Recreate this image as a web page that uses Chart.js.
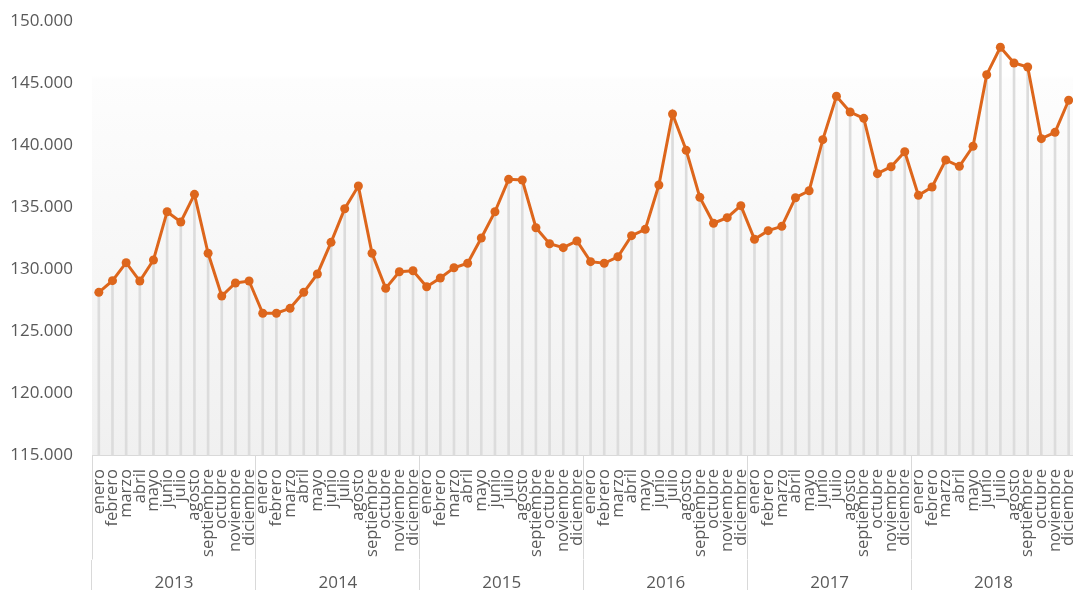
<!DOCTYPE html>
<html>
<head>
<meta charset="utf-8">
<script src="https://cdn.jsdelivr.net/npm/chart.js@4.4.1/dist/chart.umd.min.js"></script>
<style>
  html, body { margin: 0; padding: 0; background: #fff; overflow: hidden; }
  #wrap { width: 1080px; height: 590px; }
</style>
</head>
<body>
<div id="wrap"><canvas id="chart" width="1080" height="590"></canvas></div>
<script>
;(function () {
    'use strict';

    var months = ['enero', 'febrero', 'marzo', 'abril', 'mayo', 'junio', 'julio',
        'agosto', 'septiembre', 'octubre', 'noviembre', 'diciembre'];
    var years = ['2013', '2014', '2015', '2016', '2017', '2018'];

    // monthly values
    var v2013 = [128160, 129100, 130550, 129070, 130770, 134660, 133830, 136060, 131310, 127860, 128910, 129070];
    var v2014 = [126470, 126470, 126870, 128160, 129640, 132190, 134900, 136730, 131310, 128480, 129820, 129900];
    var v2015 = [128610, 129310, 130140, 130500, 132540, 134660, 137270, 137220, 133370, 132080, 131760, 132300];
    var v2016 = [130630, 130500, 131030, 132730, 133240, 136810, 142540, 139610, 135820, 133730, 134180, 135150];
    var v2017 = [132440, 133130, 133480, 135790, 136350, 140470, 143970, 142700, 142190, 137730, 138290, 139500];
    var v2018 = [135980, 136650, 138830, 138320, 139940, 145710, 147920, 146650, 146330, 140550, 141060, 143650];

    var yMin = 115000, yMax = 150000, yStep = 5000;

    var orange = '#dd661c';
    var dropColor = '#dcdcdc';
    var textColor = '#595959';
    var sepColor = '#d9d9d9';

    var labels = [];
    years.forEach(function (y) {
        months.forEach(function (m) { labels.push(m); });
    });
    var values = [].concat(v2013, v2014, v2015, v2016, v2017, v2018);

    function thousands(v) {
        return String(v).replace(/\B(?=(\d{3})+(?!\d))/g, '.');
    }

    // soft gray gradient behind the plot
    var plotBackground = {
        id: 'plotBackground',
        beforeDraw: function (chart) {
            var a = chart.chartArea, ctx = chart.ctx;
            var g = ctx.createLinearGradient(0, a.top, 0, a.bottom);
            g.addColorStop(0, '#ffffff');
            g.addColorStop(0.125, '#ffffff');
            g.addColorStop(0.135, '#fdfdfd');
            g.addColorStop(1, '#f0f0f0');
            ctx.save();
            ctx.fillStyle = g;
            ctx.fillRect(a.left, a.top, a.right - a.left, a.bottom - a.top);
            ctx.restore();
        }
    };

    var yFont = { family: "'Open Sans', sans-serif", size: 17 };
    var monthFont = { family: "'Open Sans', sans-serif", size: 16.5 };
    var monthAxisHeight = 104, yearAxisHeight = 30.5;

    new Chart(document.getElementById('chart'), {
        type: 'line',
        data: {
            labels: labels,
            datasets: [{
                type: 'line',
                data: values,
                borderColor: orange,
                backgroundColor: orange,
                borderWidth: 3,
                pointRadius: 4.5,
                pointBorderWidth: 0,
                pointBackgroundColor: orange,
                tension: 0,
                order: 0
            }, {
                // drop lines from each point down to the axis
                type: 'bar',
                data: values,
                backgroundColor: dropColor,
                borderWidth: 0,
                barThickness: 2,
                order: 1
            }]
        },
        options: {
            responsive: false,
            animation: false,
            layout: { padding: { top: 21.5, right: 3, left: 0, bottom: 0 } },
            plugins: { legend: { display: false }, tooltip: { enabled: false } },
            scales: {
                y: {
                    min: yMin,
                    max: yMax,
                    border: { display: false },
                    grid: { display: false, drawTicks: false },
                    ticks: {
                        stepSize: yStep,
                        color: textColor,
                        font: yFont,
                        padding: 19,
                        callback: function (v) { return thousands(v); }
                    },
                    afterFit: function (s) {
                        s.width = 92;
                        // tick padding would otherwise push the top down
                        s.paddingTop = 10;
                        s.paddingBottom = 10;
                    }
                },
                x: {
                    offset: true,
                    border: { display: true, color: sepColor, width: 1 },
                    grid: {
                        offset: true,
                        drawOnChartArea: false,
                        tickLength: monthAxisHeight,
                        color: function (c) {
                            return c.index !== undefined && c.index % 12 === 0 ? sepColor : 'rgba(0,0,0,0)';
                        }
                    },
                    ticks: {
                        autoSkip: false,
                        maxRotation: 90,
                        minRotation: 90,
                        color: textColor,
                        font: monthFont,
                        padding: 13.5 - monthAxisHeight
                    },
                    afterFit: function (s) { s.height = monthAxisHeight; }
                },
                x2: {
                    type: 'category',
                    position: 'bottom',
                    labels: years,
                    offset: true,
                    border: { display: false },
                    grid: {
                        offset: true,
                        drawOnChartArea: false,
                        tickLength: yearAxisHeight,
                        color: sepColor
                    },
                    ticks: {
                        color: textColor,
                        font: yFont,
                        maxRotation: 0,
                        padding: 13.3 - yearAxisHeight
                    },
                    afterFit: function (s) { s.height = yearAxisHeight; }
                }
            }
        },
        plugins: [plotBackground]
    });
}());
</script>
</body>
</html>
